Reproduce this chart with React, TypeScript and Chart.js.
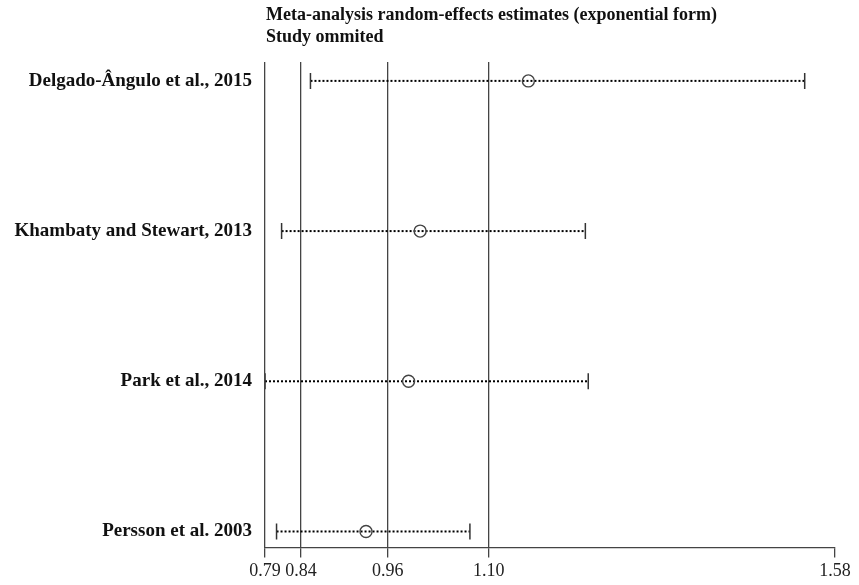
import React, { useEffect, useRef } from "react";
import { Chart, registerables } from "chart.js";

Chart.register(...registerables);

// Leave-one-out sensitivity plot: pooled estimate with each study omitted
const studies = [
  "Delgado-Ângulo et al., 2015",
  "Khambaty and Stewart, 2013",
  "Park et al., 2014",
  "Persson et al. 2003",
];
const rows = [4, 3, 2, 1];
const estimates = [1.155, 1.005, 0.989, 0.93];
const lower = [0.853, 0.813, 0.79, 0.806];
const upper = [1.538, 1.234, 1.238, 1.074];
const xTicks = [0.79, 0.84, 0.96, 1.1, 1.58];
const titleLines = [
  "Meta-analysis random-effects estimates (exponential form)",
  "Study ommited",
];

const SERIF = '"Liberation Serif", "Times New Roman", serif';

const titlePlugin = {
  id: "sideTitle",
  afterDraw(chart: any) {
    const { ctx, chartArea } = chart;
    ctx.save();
    ctx.fillStyle = "#111";
    ctx.font = `bold 18px ${SERIF}`;
    ctx.textAlign = "left";
    ctx.textBaseline = "middle";
    titleLines.forEach((line, i) => {
      ctx.fillText(line, chartArea.left + 1, 15 + i * 22);
    });
    ctx.restore();
  },
};

export default function App() {
  const canvasRef = useRef<HTMLCanvasElement | null>(null);

  useEffect(() => {
    if (!canvasRef.current) return;

    const ciSets = studies.map((name, i) => ({
      label: name,
      data: [
        { x: lower[i], y: rows[i] },
        { x: upper[i], y: rows[i] },
      ],
      showLine: true,
      borderColor: "#000",
      borderWidth: 2,
      borderDash: [2, 2],
      pointRadius: 0,
      order: 3,
    }));

    const caps = {
      label: "caps",
      data: studies.flatMap((_, i) => [
        { x: lower[i], y: rows[i] },
        { x: upper[i], y: rows[i] },
      ]),
      showLine: false,
      pointStyle: "line",
      rotation: 90,
      pointRadius: 8,
      borderColor: "#333",
      pointBorderWidth: 1.5,
      order: 2,
    };

    const points = {
      label: "estimates",
      data: studies.map((_, i) => ({ x: estimates[i], y: rows[i] })),
      showLine: false,
      pointStyle: "circle",
      pointRadius: 6,
      pointBackgroundColor: "rgba(0,0,0,0)",
      pointBorderColor: "#444",
      pointBorderWidth: 1.4,
      order: 1,
    };

    const chart = new Chart(canvasRef.current, {
      type: "scatter",
      data: { datasets: [...ciSets, caps, points] as any },
      options: {
        animation: false,
        responsive: true,
        maintainAspectRatio: false,
        events: [],
        layout: { padding: { top: 62, right: 24, left: 0, bottom: 0 } },
        plugins: {
          legend: { display: false },
          tooltip: { enabled: false },
          title: { display: false },
        },
        scales: {
          x: {
            type: "linear",
            min: 0.79,
            max: 1.58,
            afterBuildTicks: (scale: any) => {
              scale.ticks = xTicks.map((v) => ({ value: v }));
            },
            ticks: {
              callback: (v: any) => Number(v).toFixed(2),
              color: "#222",
              font: { family: SERIF, size: 18 },
              padding: 3,
              maxRotation: 0,
              autoSkip: false,
            },
            grid: {
              color: (c: any) =>
                c.tick && c.tick.value === 1.58 ? "rgba(0,0,0,0)" : "#444",
              tickColor: "#444",
              lineWidth: 1.3,
              tickLength: 10,
              drawTicks: true,
            },
            border: { display: true, color: "#444", width: 1.3 },
          },
          y: {
            type: "linear",
            min: 0.894,
            max: 4.1258,
            afterBuildTicks: (scale: any) => {
              scale.ticks = rows.map((v) => ({ value: v }));
            },
            afterFit: (scale: any) => {
              scale.width = 265;
            },
            ticks: {
              callback: (v: any) => {
                const idx = rows.indexOf(Number(v));
                return idx >= 0 ? studies[idx] : "";
              },
              color: "#111",
              font: { family: SERIF, size: 19, weight: "bold" },
              padding: 13,
              autoSkip: false,
            },
            grid: { display: false, drawTicks: false },
            border: { display: false },
          },
        },
      } as any,
      plugins: [titlePlugin],
    });

    return () => chart.destroy();
  }, []);

  return (
    <div
      style={{
        position: "fixed",
        left: 0,
        top: 0,
        width: 859,
        height: 585,
        background: "#fff",
      }}
    >
      <canvas ref={canvasRef} />
    </div>
  );
}
